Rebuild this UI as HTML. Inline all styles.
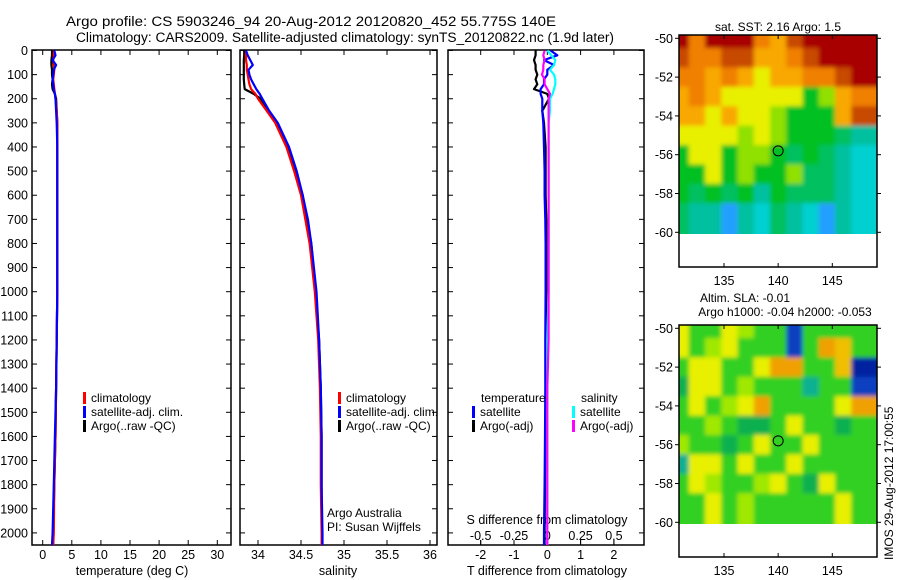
<!DOCTYPE html>
<html><head><meta charset="utf-8"><style>
html,body{margin:0;padding:0;background:#fff;}
svg{display:block;font-family:"Liberation Sans",sans-serif;}
</style></head><body>
<svg id="s" width="900" height="580" xmlns="http://www.w3.org/2000/svg">
<defs>
<filter id="bl" x="0" y="0" width="1" height="1"><feGaussianBlur stdDeviation="2.2" edgeMode="duplicate"/></filter>
<clipPath id="c1"><rect x="679" y="35" width="198" height="199"/></clipPath>
<clipPath id="c2"><rect x="679" y="325" width="198" height="199"/></clipPath>
</defs>
<text x="66" y="26" font-size="13.5" textLength="490" lengthAdjust="spacingAndGlyphs">Argo profile: CS 5903246_94 20-Aug-2012 20120820_452 55.775S 140E</text>
<text x="76" y="42" font-size="13.5" textLength="538" lengthAdjust="spacingAndGlyphs">Climatology: CARS2009. Satellite-adjusted climatology: synTS_20120822.nc (1.9d later)</text>
<text x="132" y="575" font-size="12.5" text-anchor="middle">temperature (deg C)</text>
<text x="338" y="575" font-size="12.5" text-anchor="middle">salinity</text>
<text x="547" y="575" font-size="12.5" text-anchor="middle">T difference from climatology</text>
<text x="547" y="524" font-size="12.5" text-anchor="middle">S difference from climatology</text>
<text x="327" y="517" font-size="12">Argo Australia</text>
<text x="327" y="531" font-size="12">PI: Susan Wijffels</text>
<text x="778" y="31" font-size="12" text-anchor="middle">sat. SST: 2.16 Argo: 1.5</text>
<text x="745" y="302" font-size="12" text-anchor="middle">Altim. SLA: -0.01</text>
<text x="785" y="316" font-size="12" text-anchor="middle">Argo h1000: -0.04 h2000: -0.053</text>
<text transform="translate(893,560) rotate(-90)" font-size="12">IMOS 29-Aug-2012 17:00:55</text>
<g id="g"></g>
</svg>
<script>
// ---- data ----
const depths=[0,20,40,60,80,100,120,140,160,180,200,250,300,400,500,600,700,800,1000,1200,1400,1600,1800,2000,2050];
const tempClim=[1.9,1.9,1.8,1.9,2.0,1.9,1.8,1.9,2.0,2.1,2.2,2.4,2.5,2.5,2.5,2.5,2.5,2.5,2.5,2.4,2.3,2.2,2.0,1.9,1.8];
const tempSat=[2.0,2.2,1.7,2.3,1.9,1.8,1.7,1.8,1.9,2.1,2.2,2.3,2.4,2.5,2.5,2.5,2.5,2.5,2.5,2.4,2.3,2.1,1.9,1.7,1.6];
const tempArgo=[1.6,1.6,1.5,1.5,1.6,1.6,1.7,1.6,1.7,2.1,2.3,2.4,2.5,2.5,2.5,2.5,2.5,2.5,2.5,2.4,2.3,2.2,2.0,1.8,1.8];
const salClim=[33.86,33.86,33.86,33.87,33.87,33.88,33.89,33.9,33.92,33.97,34.0,34.1,34.2,34.33,34.42,34.5,34.55,34.6,34.66,34.7,34.72,34.73,34.73,34.74,34.74];
const salSat=[33.86,33.88,33.91,33.94,33.89,33.9,33.92,33.95,33.98,34.02,34.05,34.13,34.23,34.36,34.45,34.52,34.58,34.62,34.68,34.71,34.73,34.74,34.74,34.75,34.75];
const salArgo=[33.84,33.84,33.835,33.835,33.835,33.835,33.835,33.84,33.845,33.95,34.03,34.12,34.22,34.35,34.44,34.52,34.57,34.62,34.67,34.71,34.73,34.74,34.74,34.74,34.74];
const tDiffSat=[0.1,0.3,-0.1,0.2,0,0,-0.1,-0.1,-0.2,-0.2,-0.15,-0.15,-0.12,-0.1,-0.08,-0.08,-0.06,-0.05,-0.05,-0.06,-0.06,-0.07,-0.08,-0.1,-0.1];
const tDiffArgo=[-0.35,-0.35,-0.4,-0.35,-0.35,-0.3,-0.35,-0.3,-0.4,0.0,0.05,-0.15,-0.1,-0.05,-0.05,-0.05,-0.03,-0.03,-0.03,-0.05,-0.05,-0.05,-0.07,-0.08,-0.08];
const sDiffSat=[0.0,0.03,0.06,0.05,0.02,0.05,0.06,0.06,0.05,0.04,0.02,0.02,0.01,0.01,0.01,0.01,0.01,0.01,0.01,0.0,0.0,0.0,0.0,0.0,0.0];
const sDiffArgo=[-0.02,-0.03,-0.02,-0.03,-0.03,-0.04,-0.02,-0.02,0.0,0.02,0.01,0.01,0.01,0.01,0.01,0.01,0.01,0.01,0.01,0.01,0.0,0.0,0.0,0.0,0.0];
const depthTicks=[0,100,200,300,400,500,600,700,800,900,1000,1100,1200,1300,1400,1500,1600,1700,1800,1900,2000];
const tempTicks=[0,5,10,15,20,25,30];
const salTicks=[34,34.5,35,35.5,36];
const tdTicks=[-2,-1,0,1,2];
const sdTicks=[-0.5,-0.25,0,0.25,0.5];
const sdTickLabels=["-0.5","-0.25","0","0.25","0.5"];
const lonTicks=[135,140,145];
const latTicks=[-50,-52,-54,-56,-58,-60];
const sstRows=["RoRRRoOrRRRR","roorrOOorRRR","ooOoOyOOoorR","OoOyyyyyglOo","OOyOyylgggOr","yyyylylgggGt","gyygllgGgGtc","ggyglgglGGtc","gGgGgtgGGGtc","GttbtcGtcbtc"];
const slaRows=["yggylggbgggg","yglygggbgOog","gyyggyOOggoB","Gyyglgggtggb","gyglyOggggyO","gglgGGgyggGg","lggGgyggyggg","tyygyggygggg","gylgglygGygg","ggyglgggggyg"];
const sstCol={R:"#a80000",r:"#c84a00",o:"#f08000",O:"#f8a800",y:"#e8f000",l:"#90e000",g:"#00c020",G:"#00c060",t:"#00c0a0",c:"#00d0d0",b:"#20a0ff"};
const slaCol={g:"#30d020",G:"#10b050",y:"#e8f000",l:"#a0e800",o:"#f0c000",O:"#f0a000",t:"#10b090",b:"#1040c0",B:"#0020a0"};
// ---- helpers ----
const NS="http://www.w3.org/2000/svg",G=document.getElementById('g');
function el(t,a,p){const e=document.createElementNS(NS,t);for(const k in a)e.setAttribute(k,a[k]);(p||G).appendChild(e);return e;}
const yD=d=>50.5+d*0.2412;
function panel(x0,x1,name){
 const r=el('rect',{x:x0,y:50,width:x1-x0,height:495,fill:'none',stroke:'#000','stroke-width':1.5});
 
 depthTicks.forEach(d=>{el('line',{x1:x0,x2:x0+5,y1:yD(d),y2:yD(d),stroke:'#000'});el('line',{x1:x1,x2:x1-5,y1:yD(d),y2:yD(d),stroke:'#000'});});
}
function xticks(ticks,labels,sx,x0,x1,yb,top){
 ticks.forEach((t,i)=>{const x=sx(t);
  el('line',{x1:x,x2:x,y1:545,y2:540,stroke:'#000'});
  if(top)el('line',{x1:x,x2:x,y1:50,y2:55,stroke:'#000'});
  const tx=el('text',{x:x,y:yb,'font-size':12.5,'text-anchor':'middle'});tx.textContent=labels[i];
  });
}
function line(vals,sx,col,name){
 const p=vals.map((v,i)=>(i?'L':'M')+sx(v).toFixed(1)+','+yD(depths[i]).toFixed(1)).join('');
 const e=el('path',{d:p,fill:'none',stroke:col,'stroke-width':2.2,'stroke-linejoin':'round'});
 
}
function legend(x,y,items){items.forEach((it,i)=>{
 el('rect',{x:x,y:y+i*14-10,width:3,height:12,fill:it[1]});
 const t=el('text',{x:x+8,y:y+i*14,'font-size':12});t.textContent=it[0];
 });}
depthTicks.forEach(d=>{const t=el('text',{x:28,y:yD(d)+4.5,'font-size':12.5,'text-anchor':'end'});t.textContent=d;
 });
// panel 1 temperature
const sxT=v=>42.7+v*5.82;
panel(32,231,'temperature-panel');
xticks(tempTicks,tempTicks.map(String),sxT,32,231,559,true);
line(tempArgo,sxT,'#000','temp-argo-line');line(tempClim,sxT,'#f00','temp-clim-line');line(tempSat,sxT,'#00f','temp-sat-line');
legend(83,402,[["climatology","#f00"],["satellite-adj. clim.","#00f"],["Argo(..raw -QC)","#000"]]);
// panel 2 salinity
const sxS=v=>258+(v-34)*86;
panel(240,437,'salinity-panel');
xticks(salTicks,salTicks.map(String),sxS,240,437,559,true);
line(salArgo,sxS,'#000','sal-argo-line');line(salClim,sxS,'#f00','sal-clim-line');line(salSat,sxS,'#00f','sal-sat-line');
legend(338,402,[["climatology","#f00"],["satellite-adj. clim.","#00f"],["Argo(..raw -QC)","#000"]]);
// panel 3 differences
const sxTD=v=>547.3+v*33.3, sxSD=v=>547.3+v*133.2;
panel(448,644,'difference-panel');
xticks(tdTicks,tdTicks.map(String),sxTD,448,644,559,true);
xticks(sdTicks,sdTickLabels,sxSD,448,644,540,false);
line(tDiffArgo,sxTD,'#000','tdiff-argo-line');line(tDiffSat,sxTD,'#00f','tdiff-sat-line');
line(sDiffSat,sxSD,'#0ff','sdiff-sat-line');line(sDiffArgo,sxSD,'#f0f','sdiff-argo-line');
{const t=el('text',{x:481,y:402,'font-size':12});t.textContent='temperature';const u=el('text',{x:581,y:402,'font-size':12});u.textContent='salinity';}
legend(472,416,[["satellite","#00f"],["Argo(-adj)","#000"]]);
legend(572,416,[["satellite","#0ff"],["Argo(-adj)","#f0f"]]);
// maps
function map(ytop,ybot,y50,rows,cols,name,clip){
 const x0=679,x1=877,sxL=v=>724+(v-135)*10.83,syL=v=>y50+(-50-v)*19.4;
 const outer=el('g',{'clip-path':'url(#'+clip+')'});
 const grp=el('g',{filter:'url(#bl)'},outer);
 rows.forEach((r,i)=>{for(let j=0;j<r.length;j++){
  const lo=131+j*1.5, la=-50-i;
  const xa=j?sxL(lo-0.75):x0-6, xb=j==r.length-1?x1+6:sxL(lo+0.75), ya=i?syL(la+0.5):ytop-6, yb=i==rows.length-1?syL(-60.1)+6:syL(la-0.5);
  el('rect',{x:xa,y:ya,width:xb-xa+0.5,height:yb-ya+0.5,fill:cols[r[j]]},grp);}});
 el('circle',{cx:sxL(140),cy:syL(-55.8),r:5,fill:'none',stroke:'#000'});
 el('rect',{x:x0,y:ytop,width:x1-x0,height:ybot-ytop,fill:'none',stroke:'#000','stroke-width':1.5});
 lonTicks.forEach(v=>{el('line',{x1:sxL(v),x2:sxL(v),y1:ybot,y2:ybot-4,stroke:'#000'});el('line',{x1:sxL(v),x2:sxL(v),y1:ytop,y2:ytop+4,stroke:'#000'});
  const t=el('text',{x:sxL(v),y:ybot+18,'font-size':12.5,'text-anchor':'middle'});t.textContent=v;});
 latTicks.forEach(v=>{el('line',{x1:x0,x2:x0-4,y1:syL(v),y2:syL(v),stroke:'#000'});el('line',{x1:x1,x2:x1+4,y1:syL(v),y2:syL(v),stroke:'#000'});
  const t=el('text',{x:673,y:syL(v)+4.5,'font-size':12.5,'text-anchor':'end'});t.textContent=v;});
}
map(35,267,38.3,sstRows,sstCol,'sst-map','c1');
map(325,557,328.3,slaRows,slaCol,'sla-map','c2');
</script>
</body></html>
